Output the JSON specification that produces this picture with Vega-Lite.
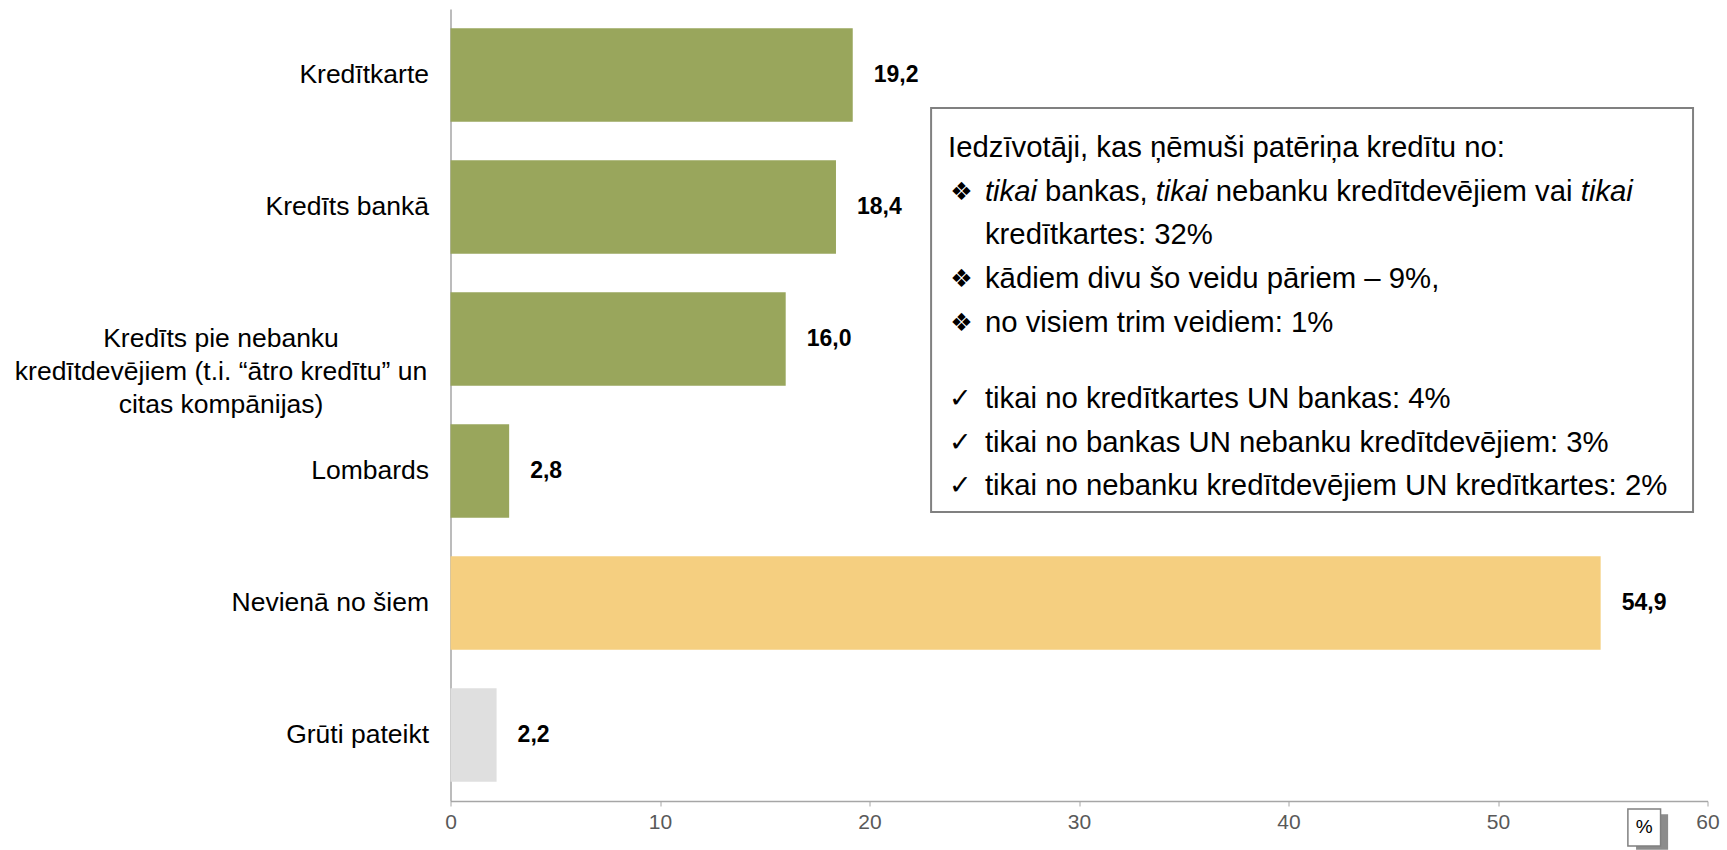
{
  "$schema": "https://vega.github.io/schema/vega-lite/v6.json",
  "width": 1257,
  "height": 792,
  "autosize": {"type": "none"},
  "padding": {"left": 450.5, "top": 9, "right": 19.5, "bottom": 49},
  "config": {
    "font": "Liberation Sans",
    "view": {"stroke": null},
    "locale": {"number": {"decimal": ",", "thousands": " ", "grouping": [3], "currency": ["", " €"]}}
  },
  "layer": [
    {
      "data": {
        "values": [
          {"category": "Kredītkarte", "value": 19.2, "group": "credit"},
          {"category": "Kredīts bankā", "value": 18.4, "group": "credit"},
          {"category": "Kredīts pie nebanku kredītdevējiem (t.i. “ātro kredītu” un citas kompānijas)", "value": 16.0, "group": "credit"},
          {"category": "Lombards", "value": 2.8, "group": "credit"},
          {"category": "Nevienā no šiem", "value": 54.9, "group": "none"},
          {"category": "Grūti pateikt", "value": 2.2, "group": "unknown"}
        ]
      },
      "encoding": {
        "y": {
          "field": "category", "type": "nominal", "sort": null,
          "scale": {"paddingInner": 0.29, "paddingOuter": 0.145},
          "axis": {
            "title": null, "ticks": false, "domainColor": "#a6a6a6", "domainWidth": 1.5,
            "labelFontSize": 26.5, "labelColor": "#000000", "labelLimit": 600, "labelLineHeight": 33,
            "labelExpr": "indexof(datum.value, 'nebanku') >= 0 ? ['Kredīts pie nebanku', 'kredītdevējiem (t.i. “ātro kredītu” un', 'citas kompānijas)'] : datum.label",
            "labelAlign": {"condition": {"test": "indexof(datum.value, 'nebanku') >= 0", "value": "center"}, "value": "right"},
            "labelPadding": {"condition": {"test": "indexof(datum.value, 'nebanku') >= 0", "value": 230}, "value": 22}
          }
        },
        "x": {
          "field": "value", "type": "quantitative",
          "scale": {"domain": [0, 60], "nice": false},
          "axis": {
            "title": null, "values": [0, 10, 20, 30, 40, 50, 60], "grid": false,
            "tickSize": 5, "tickColor": "#a6a6a6", "domainColor": "#a6a6a6", "domainWidth": 1.5,
            "labelFontSize": 21, "labelColor": "#595959", "labelPadding": 5, "labelFlush": false, "format": "d"
          }
        }
      },
      "layer": [
        {
          "mark": {"type": "bar"},
          "encoding": {
            "color": {
              "field": "group", "type": "nominal",
              "scale": {"domain": ["credit", "none", "unknown"], "range": ["#99A65C", "#F5CF80", "#DFDFDF"]},
              "legend": null
            }
          }
        },
        {
          "mark": {"type": "text", "align": "left", "baseline": "middle", "dx": 21, "fontWeight": "bold", "fontSize": 23, "color": "#000000"},
          "encoding": {"text": {"field": "value", "type": "quantitative", "format": ".1f"}}
        }
      ]
    },
    {
      "data": {"values": [{}]},
      "layer": [
        {
          "mark": {"type": "rect", "fill": "#ffffff", "stroke": "#808080", "strokeWidth": 2},
          "encoding": {
            "x": {"datum": 22.94, "type": "quantitative"}, "x2": {"datum": 59.31},
            "y": {"datum": 0.75, "type": "quantitative", "scale": {"domain": [0, 6], "reverse": true}, "axis": null}, "y2": {"datum": 3.81}
          }
        },
        {
          "mark": {"type": "text", "text": "Iedzīvotāji, kas ņēmuši patēriņa kredītu no:", "align": "left", "baseline": "middle", "fontSize": 29.3, "color": "#000000"},
          "encoding": {"x": {"datum": 23.75, "type": "quantitative"}, "y": {"datum": 1.05, "type": "quantitative"}}
        },
        {
          "mark": {"type": "text", "text": "❖", "align": "left", "baseline": "middle", "fontSize": 25, "font": "DejaVu Sans", "color": "#000000"},
          "encoding": {"x": {"datum": 23.85, "type": "quantitative"}, "y": {"datum": 1.383, "type": "quantitative"}}
        },
        {
          "mark": {"type": "text", "text": "tikai", "align": "left", "baseline": "middle", "fontSize": 29.3, "fontStyle": "italic", "color": "#000000"},
          "encoding": {"x": {"datum": 25.51, "type": "quantitative"}, "y": {"datum": 1.383, "type": "quantitative"}}
        },
        {
          "mark": {"type": "text", "text": "bankas,", "align": "left", "baseline": "middle", "fontSize": 29.3, "color": "#000000"},
          "encoding": {"x": {"datum": 28.38, "type": "quantitative"}, "y": {"datum": 1.383, "type": "quantitative"}}
        },
        {
          "mark": {"type": "text", "text": "tikai", "align": "left", "baseline": "middle", "fontSize": 29.3, "fontStyle": "italic", "color": "#000000"},
          "encoding": {"x": {"datum": 33.66, "type": "quantitative"}, "y": {"datum": 1.383, "type": "quantitative"}}
        },
        {
          "mark": {"type": "text", "text": "nebanku kredītdevējiem vai", "align": "left", "baseline": "middle", "fontSize": 29.3, "color": "#000000"},
          "encoding": {"x": {"datum": 36.53, "type": "quantitative"}, "y": {"datum": 1.383, "type": "quantitative"}}
        },
        {
          "mark": {"type": "text", "text": "tikai", "align": "left", "baseline": "middle", "fontSize": 29.3, "fontStyle": "italic", "color": "#000000"},
          "encoding": {"x": {"datum": 53.95, "type": "quantitative"}, "y": {"datum": 1.383, "type": "quantitative"}}
        },
        {
          "mark": {"type": "text", "text": "kredītkartes: 32%", "align": "left", "baseline": "middle", "fontSize": 29.3, "color": "#000000"},
          "encoding": {"x": {"datum": 25.51, "type": "quantitative"}, "y": {"datum": 1.709, "type": "quantitative"}}
        },
        {
          "mark": {"type": "text", "text": "❖", "align": "left", "baseline": "middle", "fontSize": 25, "font": "DejaVu Sans", "color": "#000000"},
          "encoding": {"x": {"datum": 23.85, "type": "quantitative"}, "y": {"datum": 2.043, "type": "quantitative"}}
        },
        {
          "mark": {"type": "text", "text": "kādiem divu šo veidu pāriem – 9%,", "align": "left", "baseline": "middle", "fontSize": 29.3, "color": "#000000"},
          "encoding": {"x": {"datum": 25.51, "type": "quantitative"}, "y": {"datum": 2.043, "type": "quantitative"}}
        },
        {
          "mark": {"type": "text", "text": "❖", "align": "left", "baseline": "middle", "fontSize": 25, "font": "DejaVu Sans", "color": "#000000"},
          "encoding": {"x": {"datum": 23.85, "type": "quantitative"}, "y": {"datum": 2.376, "type": "quantitative"}}
        },
        {
          "mark": {"type": "text", "text": "no visiem trim veidiem: 1%", "align": "left", "baseline": "middle", "fontSize": 29.3, "color": "#000000"},
          "encoding": {"x": {"datum": 25.51, "type": "quantitative"}, "y": {"datum": 2.376, "type": "quantitative"}}
        },
        {
          "mark": {"type": "text", "text": "✓", "align": "left", "baseline": "middle", "fontSize": 27, "font": "DejaVu Sans", "color": "#000000"},
          "encoding": {"x": {"datum": 23.8, "type": "quantitative"}, "y": {"datum": 2.952, "type": "quantitative"}}
        },
        {
          "mark": {"type": "text", "text": "tikai no kredītkartes UN bankas: 4%", "align": "left", "baseline": "middle", "fontSize": 29.3, "color": "#000000"},
          "encoding": {"x": {"datum": 25.51, "type": "quantitative"}, "y": {"datum": 2.952, "type": "quantitative"}}
        },
        {
          "mark": {"type": "text", "text": "✓", "align": "left", "baseline": "middle", "fontSize": 27, "font": "DejaVu Sans", "color": "#000000"},
          "encoding": {"x": {"datum": 23.8, "type": "quantitative"}, "y": {"datum": 3.286, "type": "quantitative"}}
        },
        {
          "mark": {"type": "text", "text": "tikai no bankas UN nebanku kredītdevējiem: 3%", "align": "left", "baseline": "middle", "fontSize": 29.3, "color": "#000000"},
          "encoding": {"x": {"datum": 25.51, "type": "quantitative"}, "y": {"datum": 3.286, "type": "quantitative"}}
        },
        {
          "mark": {"type": "text", "text": "✓", "align": "left", "baseline": "middle", "fontSize": 27, "font": "DejaVu Sans", "color": "#000000"},
          "encoding": {"x": {"datum": 23.8, "type": "quantitative"}, "y": {"datum": 3.611, "type": "quantitative"}}
        },
        {
          "mark": {"type": "text", "text": "tikai no nebanku kredītdevējiem UN kredītkartes: 2%", "align": "left", "baseline": "middle", "fontSize": 29.3, "color": "#000000"},
          "encoding": {"x": {"datum": 25.51, "type": "quantitative"}, "y": {"datum": 3.611, "type": "quantitative"}}
        },
        {
          "mark": {"type": "rect", "fill": "#8c8c8c"},
          "encoding": {
            "x": {"datum": 56.59, "type": "quantitative"}, "x2": {"datum": 58.12},
            "y": {"datum": 6.1, "type": "quantitative"}, "y2": {"datum": 6.37}
          }
        },
        {
          "mark": {"type": "rect", "fill": "#ffffff", "stroke": "#808080", "strokeWidth": 1.5},
          "encoding": {
            "x": {"datum": 56.2, "type": "quantitative"}, "x2": {"datum": 57.76},
            "y": {"datum": 6.06, "type": "quantitative"}, "y2": {"datum": 6.34}
          }
        },
        {
          "mark": {"type": "text", "text": "%", "align": "center", "baseline": "middle", "fontSize": 19, "color": "#000000"},
          "encoding": {"x": {"datum": 56.98, "type": "quantitative"}, "y": {"datum": 6.2, "type": "quantitative"}}
        }
      ]
    }
  ],
  "resolve": {"scale": {"y": "independent"}}
}
